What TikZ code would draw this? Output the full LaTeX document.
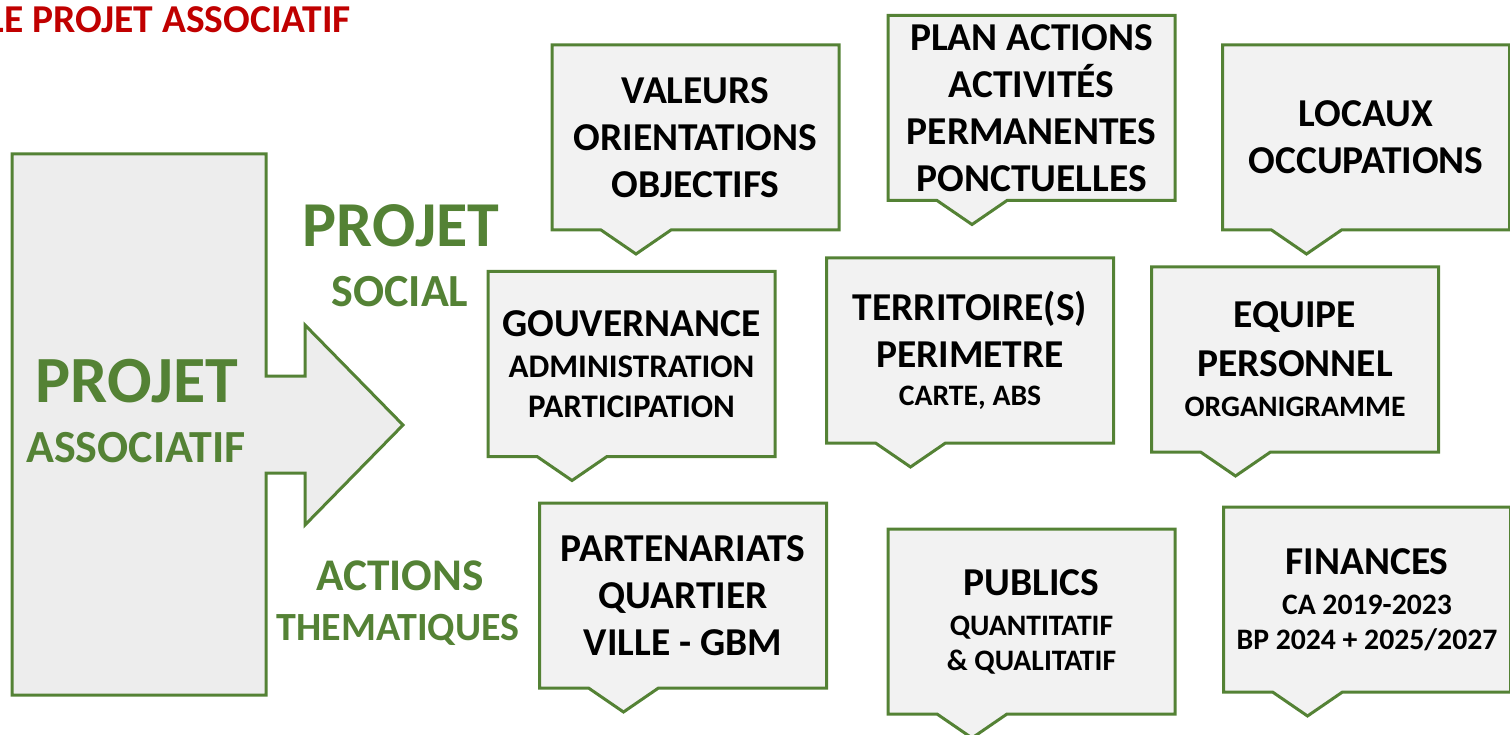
\documentclass[tikz,border=0pt]{standalone}
\usepackage{fontspec}
\setmainfont{Carlito}
\usetikzlibrary{backgrounds}
\definecolor{vert}{HTML}{548235}
\definecolor{rouge}{HTML}{C00000}
\definecolor{gris}{HTML}{F2F2F2}
\definecolor{grisfonce}{HTML}{EDEDED}
\newcommand{\petit}{\fontsize{33}{38}\selectfont}
\newcommand{\moyen}{\fontsize{29.7}{34}\selectfont}

\begin{document}
\begin{tikzpicture}[x=1pt,y=1pt,
  bulle/.style={minimum width=287pt,minimum height=185pt,inner sep=0pt,outer sep=0pt,
    align=center,font=\bfseries\fontsize{39.5}{47}\selectfont},
  cadre/.style={draw=vert,line width=3pt,fill=gris},
  etiquette/.style={text=vert,anchor=base,inner sep=0pt}]
  \useasboundingbox (0,0) rectangle (1510,-735);

  % titre
  \node[anchor=base east,inner sep=0pt,text=rouge,font=\bfseries\fontsize{39.5}{45}\selectfont]
    (titre) at (351,-33) {LE PROJET ASSOCIATIF};

  % textes verts
  \node[etiquette,font=\bfseries\fontsize{66}{70}\selectfont] (projetasso) at (137,-402) {PROJET};
  \node[etiquette,font=\bfseries\fontsize{46}{50}\selectfont] (associatif) at (136,-462) {ASSOCIATIF};
  \node[etiquette,font=\bfseries\fontsize{64}{70}\selectfont] (projet) at (401,-247) {PROJET};
  \node[etiquette,font=\bfseries\fontsize{46}{50}\selectfont] (social) at (400,-307) {SOCIAL};
  \node[etiquette,font=\bfseries\fontsize{45.3}{50}\selectfont] (actions) at (400,-590) {ACTIONS};
  \node[etiquette,font=\bfseries\fontsize{40}{50}\selectfont] (thematiques) at (398,-640) {THEMATIQUES};

  % bulles
  \node[bulle] (valeurs) at (695.5,-137.5) {VALEURS\\ORIENTATIONS\\OBJECTIFS};
  \node[bulle] (plan) at (1031.5,-108) {PLAN ACTIONS\\ACTIVITÉS\\PERMANENTES\\PONCTUELLES};
  \node[bulle] (locaux) at (1366,-137.5) {LOCAUX\\OCCUPATIONS};
  \node[bulle] (gouvernance) at (631.5,-364) {GOUVERNANCE\\[-6pt]{\petit ADMINISTRATION}\\[-7pt]{\petit PARTICIPATION}};
  \node[bulle] (territoire) at (970,-350.5) {TERRITOIRE(S)\\PERIMETRE\\[-9pt]{\moyen CARTE, ABS}};
  \node[bulle] (equipe) at (1295,-359.5) {EQUIPE\\[2pt]PERSONNEL\\[-7pt]{\moyen ORGANIGRAMME}};
  \node[bulle] (partenariats) at (683,-595.5) {PARTENARIATS\\QUARTIER\\VILLE - GBM};
  \node[bulle] (publics) at (1031.5,-621.5) {PUBLICS\\[-7pt]{\moyen QUANTITATIF}\\[-12pt]{\moyen \& QUALITATIF}};
  \node[bulle] (finances) at (1367,-599.5) {FINANCES\\[-7pt]{\moyen CA 2019-2023}\\[-12pt]{\moyen BP 2024 + 2025/2027}};

  \begin{pgfonlayer}{background}
    % grande fleche
    \draw[cadre,fill=grisfonce] (12,-154) -- (266,-154) -- (266,-376) -- (305,-376) -- (305,-325)
      -- (403,-425) -- (305,-525) -- (305,-473) -- (266,-473) -- (266,-695) -- (12,-695) -- cycle;
    \foreach \n in {valeurs,plan,locaux,gouvernance,territoire,equipe,partenariats,publics,finances}
      \draw[cadre] (\n.north west) -- (\n.north east) -- (\n.south east)
        -- ([xshift=119pt]\n.south west) -- ++(-35,-24) -- ++(-35,24)
        -- (\n.south west) -- cycle;
  \end{pgfonlayer}
\end{tikzpicture}
\end{document}
